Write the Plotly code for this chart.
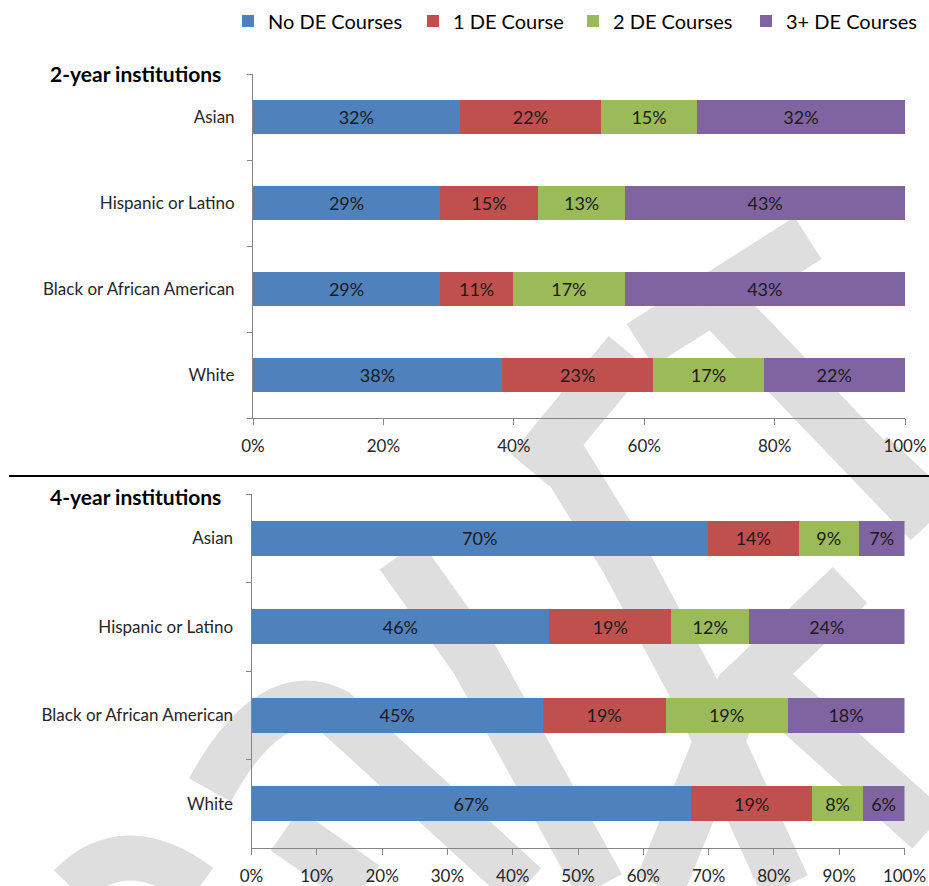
import plotly.graph_objects as go

W, H = 929, 886

categories = ["White", "Black or African American", "Hispanic or Latino", "Asian"]
series_names = ["No DE Courses", "1 DE Course", "2 DE Courses", "3+ DE Courses"]
colors = ["#4F81BD", "#C0504D", "#9BBB59", "#8064A2"]

# 2-year institutions (order: White, Black, Hispanic, Asian)
two_no = [38.2, 28.7, 28.7, 31.7]
two_one = [23.2, 11.2, 15.0, 21.7]
two_two = [16.9, 17.1, 13.4, 14.7]
two_three = [21.7, 43.0, 42.9, 31.9]

# 4-year institutions
four_no = [67.3, 44.6, 45.6, 69.9]
four_one = [18.6, 18.8, 18.7, 13.9]
four_two = [7.7, 18.7, 11.9, 9.2]
four_three = [6.4, 17.9, 23.8, 7.0]

top_ticks = [0, 20, 40, 60, 80, 100]
bottom_ticks = [0, 10, 20, 30, 40, 50, 60, 70, 80, 90, 100]

FONT = "Lato"

def px(x):
    return x / W

def py(y):
    return 1 - y / H

fig = go.Figure()

two_series = [two_no, two_one, two_two, two_three]
four_series = [four_no, four_one, four_two, four_three]
legend_ids = ["legend", "legend2", "legend3", "legend4"]

for i, name in enumerate(series_names):
    fig.add_trace(go.Bar(
        y=categories, x=two_series[i], orientation="h", name=name,
        marker=dict(color=colors[i], line=dict(width=0)),
        texttemplate="%{x:.0f}%", textposition="inside", insidetextanchor="middle",
        textangle=0, constraintext="none",
        textfont=dict(family=FONT, size=18, color="#1a1a1a"),
        xaxis="x", yaxis="y", legendgroup=name, showlegend=True,
        legend=legend_ids[i], hoverinfo="skip",
    ))
for i, name in enumerate(series_names):
    fig.add_trace(go.Bar(
        y=categories, x=four_series[i], orientation="h", name=name,
        marker=dict(color=colors[i], line=dict(width=0)),
        texttemplate="%{x:.0f}%", textposition="inside", insidetextanchor="middle",
        textangle=0, constraintext="none",
        textfont=dict(family=FONT, size=18, color="#1a1a1a"),
        xaxis="x2", yaxis="y2", legendgroup=name, showlegend=False,
        hoverinfo="skip",
    ))

axis_line = "#868686"
xcommon = dict(range=[0, 100], showgrid=False, zeroline=False, showline=True,
               linecolor=axis_line, linewidth=1, ticks="outside", ticklen=6,
               tickcolor=axis_line, fixedrange=True, automargin=False,
               tickfont=dict(family=FONT, size=17, color="#262626"),
               ticklabelstandoff=7)
ycommon = dict(type="category", categoryorder="array", categoryarray=categories,
               showgrid=False, zeroline=False, showline=True, linecolor=axis_line,
               linewidth=1, ticks="outside", ticklen=5, tickcolor=axis_line,
               tickson="boundaries", fixedrange=True, automargin=False,
               tickfont=dict(family=FONT, size=17, color="#262626"),
               ticklabelstandoff=14)

legend_centers = [248, 433, 593, 766]
legend_layouts = {}
for lid, cx in zip(legend_ids, legend_centers):
    legend_layouts[lid] = dict(orientation="h", x=px(cx - 20), y=py(21), xanchor="left",
                               yanchor="middle", font=dict(family=FONT, size=20, color="#000000"),
                               itemwidth=30, bgcolor="rgba(0,0,0,0)", borderwidth=0)

fig.update_layout(
    width=W, height=H,
    margin=dict(l=0, r=0, t=0, b=0, autoexpand=False),
    paper_bgcolor="white",
    plot_bgcolor="rgba(0,0,0,0)",
    barmode="stack",
    bargap=0.6,
    font=dict(family=FONT, size=16, color="#000000"),
    xaxis=dict(domain=[px(253), px(905)], anchor="y", tickvals=top_ticks,
               ticktext=[f"{v}%" for v in top_ticks], **xcommon),
    yaxis=dict(domain=[py(418), py(74)], anchor="x", **ycommon),
    xaxis2=dict(domain=[px(251.5), px(904.5)], anchor="y2", tickvals=bottom_ticks,
                ticktext=[f"{v}%" for v in bottom_ticks], **xcommon),
    yaxis2=dict(domain=[py(848), py(494)], anchor="x2", **ycommon),
    showlegend=True,
    **legend_layouts,
)

# section titles
fig.add_annotation(text="<b>2-year institutions</b>", x=px(48), y=py(73), xref="paper", yref="paper",
                   xanchor="left", yanchor="middle", showarrow=False,
                   font=dict(family=FONT, size=21, color="#000000"))
fig.add_annotation(text="<b>4-year institutions</b>", x=px(48), y=py(496), xref="paper", yref="paper",
                   xanchor="left", yanchor="middle", showarrow=False,
                   font=dict(family=FONT, size=21, color="#000000"))

# separator line
fig.add_shape(type="line", x0=px(9), x1=1, y0=py(476), y1=py(476), xref="paper", yref="paper",
              line=dict(color="#000000", width=2))

# DRAFT watermark (decorative, approximate strokes drawn behind the chart)
def path(points):
    s = "M {} {}".format(px(points[0][0]), py(points[0][1]))
    for p in points[1:]:
        s += " L {} {}".format(px(p[0]), py(p[1]))
    return s

wm = "#dedede"
strokes = [
    [(808, 238), (640, 345)],
    [(715, 300), (929, 523)],
    [(628, 352), (530, 470)],
    [(400, 555), (475, 660), (600, 886)],
    [(545, 430), (625, 560), (700, 700), (785, 886)],
    [(740, 660), (929, 830)],
    [(850, 585), (740, 690), (660, 886)],
    [(870, 455), (929, 510)],
    [(285, 830), (365, 886)],
]
for s in strokes:
    fig.add_shape(type="path", path=path(s), xref="paper", yref="paper", layer="below",
                  line=dict(color=wm, width=50))
d_outer = "M {} {} Q {} {} {} {} L {} {}".format(px(210), py(790), px(270), py(680),
                                                  px(335), py(712), px(525), py(886))
fig.add_shape(type="path", path=d_outer, xref="paper", yref="paper", layer="below",
              line=dict(color=wm, width=48))
d_inner = "M {} {} Q {} {} {} {}".format(px(70), py(886), px(125), py(830), px(200), py(886))
fig.add_shape(type="path", path=d_inner, xref="paper", yref="paper", layer="below",
              line=dict(color=wm, width=45))

fig.write_html("out.html")
